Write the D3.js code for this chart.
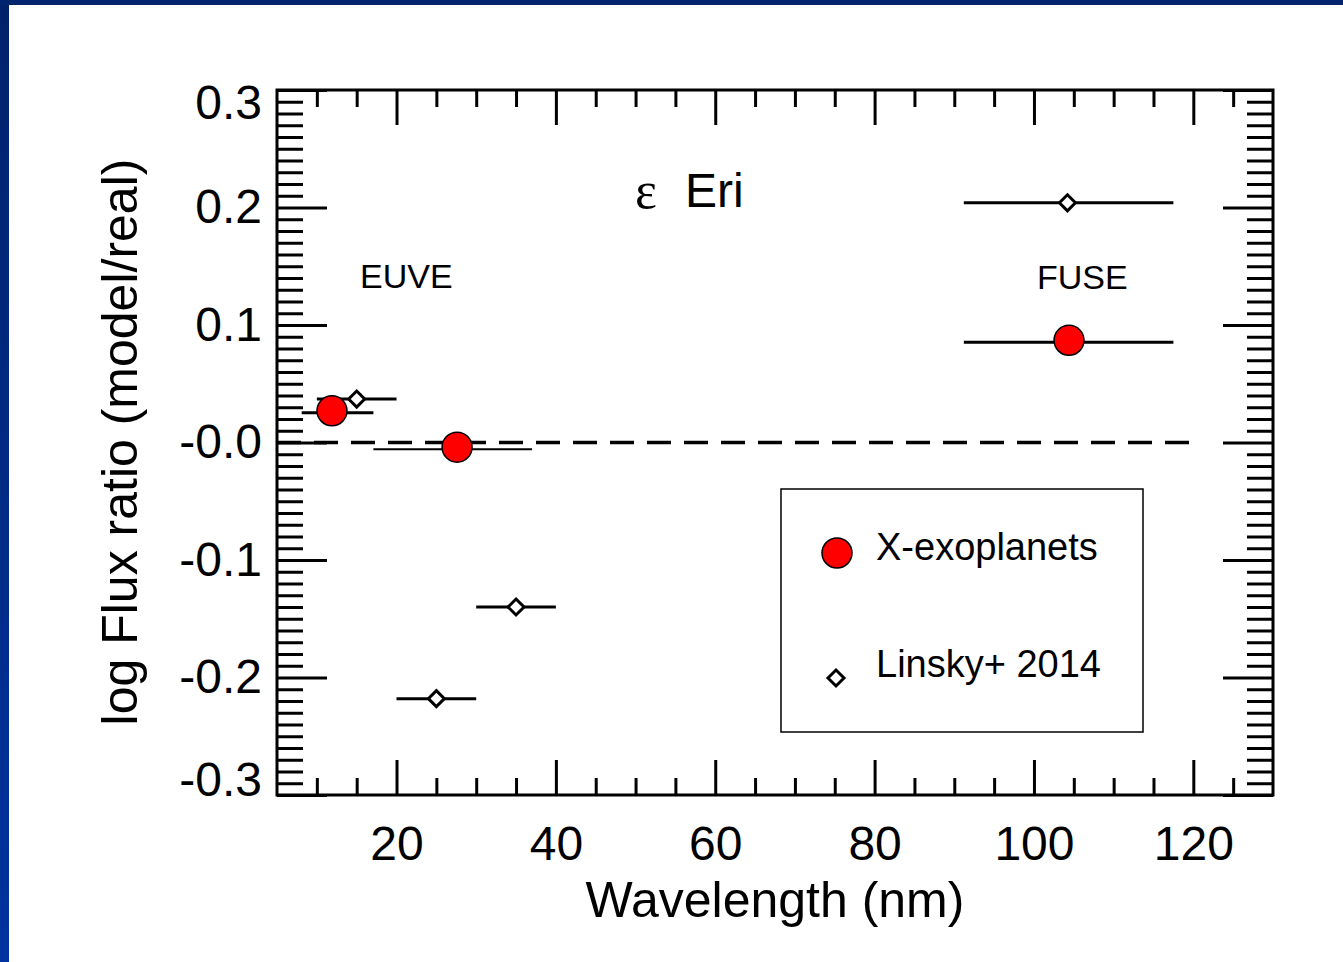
<!DOCTYPE html>
<html>
<head>
<meta charset="utf-8">
<script src="https://cdn.jsdelivr.net/npm/d3@7"></script>
<style>
  body { margin: 0; background: #fff; }
  svg { display: block; font-family: "Liberation Sans", Arial, sans-serif; }
</style>
</head>
<body>
<div id="chart"></div>
<script>
// tick setup
const xTicks = [20, 40, 60, 80, 100, 120];
const xMinor = [10, 15, 25, 30, 35, 45, 50, 55, 65, 70, 75, 85, 90, 95, 105, 110, 115, 125];
const yTicks = [-0.3, -0.2, -0.1, 0, 0.1, 0.2, 0.3];
const yTickLabels = ["-0.3", "-0.2", "-0.1", "-0.0", "0.1", "0.2", "0.3"];

// X-exoplanets (red circles): wavelength, band edges, log ratio
const xexoLam = [11.9, 27.6, 104.4];
const xexoLo = [8.1, 17.1, 91.2];
const xexoHi = [17.1, 37.0, 117.5];
const xexoRatio = [0.027, -0.004, 0.087];

// Linsky+ 2014 (diamonds)
const linskyLam = [15, 25, 35, 104.2];
const linskyLo = [10, 20, 30, 91.2];
const linskyHi = [20, 30, 40, 117.5];
const linskyRatio = [0.037, -0.218, -0.140, 0.204];

const width = 1343;
const height = 962;
const margin = { left: 277, right: 70, top: 90, bottom: 167 };

const svg = d3.select("#chart")
    .append("svg")
    .attr("width", width)
    .attr("height", height);

// blue slide frame (top and left strips)
const grad = svg.append("defs").append("linearGradient")
    .attr("id", "frame").attr("x1", 0).attr("y1", 0).attr("x2", 0).attr("y2", 1);
grad.append("stop").attr("offset", "0%").attr("stop-color", "#00226a");
grad.append("stop").attr("offset", "100%").attr("stop-color", "#0033a0");
svg.append("rect").attr("x", 0).attr("y", 0).attr("width", 9).attr("height", height).attr("fill", "url(#frame)");
svg.append("rect").attr("x", 0).attr("y", 0).attr("width", width).attr("height", 5).attr("fill", "#00246e");

const x = d3.scaleLinear().domain([5, 130]).range([margin.left, width - margin.right]);
const y = d3.scaleLinear().domain([-0.3, 0.3]).range([height - margin.bottom, margin.top]);

const x0 = x.range()[0], x1 = x.range()[1];
const y0 = y.range()[0], y1 = y.range()[1];

function styleAxis(g) {
    g.select(".domain").remove();
    g.selectAll(".tick line").attr("stroke", "#000").attr("stroke-width", 3);
    g.selectAll("text").attr("fill", "#000").style("font-size", "48px");
}

// bottom axis, ticks pointing inward
svg.append("g")
    .attr("transform", `translate(0,${y0})`)
    .call(d3.axisBottom(x).tickValues(xTicks).tickSize(-35).tickPadding(31).tickFormat(d3.format("d")))
    .call(styleAxis);
svg.append("g")
    .attr("transform", `translate(0,${y0})`)
    .call(d3.axisBottom(x).tickValues(xMinor).tickSize(-17).tickFormat(""))
    .call(styleAxis);

// top axis
svg.append("g")
    .attr("transform", `translate(0,${y1})`)
    .call(d3.axisTop(x).tickValues(xTicks).tickSize(-35).tickFormat(""))
    .call(styleAxis);
svg.append("g")
    .attr("transform", `translate(0,${y1})`)
    .call(d3.axisTop(x).tickValues(xMinor).tickSize(-17).tickFormat(""))
    .call(styleAxis);

// left axis
const yMinor = d3.range(-29, 30).filter(v => v % 10 !== 0).map(v => v / 100);
const leftAxis = svg.append("g")
    .attr("transform", `translate(${x0},0)`)
    .call(d3.axisLeft(y).tickValues(yTicks).tickSize(-50).tickPadding(15)
        .tickFormat((d, i) => yTickLabels[i]))
    .call(styleAxis);
leftAxis.selectAll(".tick text")
    .attr("dy", (d, i) => i === 0 ? "0.02em" : (i === yTicks.length - 1 ? "0.6em" : "0.32em"));
svg.append("g")
    .attr("transform", `translate(${x0},0)`)
    .call(d3.axisLeft(y).tickValues(yMinor).tickSize(-26).tickFormat(""))
    .call(styleAxis);

// right axis
svg.append("g")
    .attr("transform", `translate(${x1},0)`)
    .call(d3.axisRight(y).tickValues(yTicks).tickSize(-50).tickFormat(""))
    .call(styleAxis);
svg.append("g")
    .attr("transform", `translate(${x1},0)`)
    .call(d3.axisRight(y).tickValues(yMinor).tickSize(-26).tickFormat(""))
    .call(styleAxis);

// plot box
svg.append("rect")
    .attr("x", x0).attr("y", y1)
    .attr("width", x1 - x0).attr("height", y0 - y1)
    .attr("fill", "none").attr("stroke", "#000").attr("stroke-width", 3);

// zero line
svg.append("line")
    .attr("x1", x(5)).attr("x2", x(120))
    .attr("y1", y(0)).attr("y2", y(0))
    .attr("stroke", "#000").attr("stroke-width", 3.5)
    .attr("stroke-dasharray", "24,13");

// Linsky+ 2014
const linsky = linskyLam.map((d, i) => ({ lam: d, lo: linskyLo[i], hi: linskyHi[i], r: linskyRatio[i] }));
svg.append("g").selectAll("line")
    .data(linsky)
    .join("line")
    .attr("x1", d => x(d.lo)).attr("x2", d => x(d.hi))
    .attr("y1", d => y(d.r)).attr("y2", d => y(d.r))
    .attr("stroke", "#000").attr("stroke-width", 3);

const diamond = "M0,-8L8,0L0,8L-8,0Z";
svg.append("g").selectAll("path")
    .data(linsky)
    .join("path")
    .attr("d", diamond)
    .attr("transform", d => `translate(${x(d.lam)},${y(d.r)})`)
    .attr("fill", "#fff").attr("stroke", "#000").attr("stroke-width", 3);

// X-exoplanets
const xexo = xexoLam.map((d, i) => ({ lam: d, lo: xexoLo[i], hi: xexoHi[i], r: xexoRatio[i] }));
svg.append("g").selectAll("line")
    .data(xexo)
    .join("line")
    .attr("x1", d => x(d.lo)).attr("x2", d => x(d.hi))
    .attr("y1", d => y(d.r) + 2).attr("y2", d => y(d.r) + 2)
    .attr("stroke", "#000").attr("stroke-width", (d, i) => i === 1 ? 2 : 3);

svg.append("g").selectAll("circle")
    .data(xexo)
    .join("circle")
    .attr("cx", d => x(d.lam)).attr("cy", d => y(d.r))
    .attr("r", 15)
    .attr("fill", "#ff0000").attr("stroke", "#000").attr("stroke-width", 1.5);

// annotations
svg.append("text")
    .attr("x", 635).attr("y", 208)
    .style("font-family", "'Liberation Serif', 'DejaVu Serif', serif")
    .style("font-size", "52px")
    .text("ε");
svg.append("text")
    .attr("x", 685).attr("y", 207)
    .style("font-size", "48px")
    .text("Eri");
svg.append("text")
    .attr("x", 360).attr("y", 288)
    .style("font-size", "34px")
    .text("EUVE");
svg.append("text")
    .attr("x", 1037).attr("y", 289)
    .style("font-size", "34px")
    .text("FUSE");

// axis titles
svg.append("text")
    .attr("x", 775).attr("y", 917)
    .attr("text-anchor", "middle")
    .style("font-size", "50px")
    .text("Wavelength (nm)");
svg.append("text")
    .attr("transform", "translate(137,442) rotate(-90)")
    .attr("text-anchor", "middle")
    .style("font-size", "50px")
    .text("log Flux ratio (model/real)");

// legend
const legend = svg.append("g");
legend.append("rect")
    .attr("x", 781).attr("y", 489)
    .attr("width", 362).attr("height", 243)
    .attr("fill", "#fff").attr("stroke", "#000").attr("stroke-width", 1.5);
legend.append("circle")
    .attr("cx", 837).attr("cy", 553).attr("r", 15)
    .attr("fill", "#ff0000").attr("stroke", "#000").attr("stroke-width", 1.5);
legend.append("text")
    .attr("x", 876).attr("y", 560)
    .style("font-size", "38px")
    .text("X-exoplanets");
legend.append("path")
    .attr("d", diamond)
    .attr("transform", "translate(836,678)")
    .attr("fill", "#fff").attr("stroke", "#000").attr("stroke-width", 3);
legend.append("text")
    .attr("x", 876).attr("y", 677)
    .style("font-size", "38px")
    .text("Linsky+ 2014");
</script>
</body>
</html>
